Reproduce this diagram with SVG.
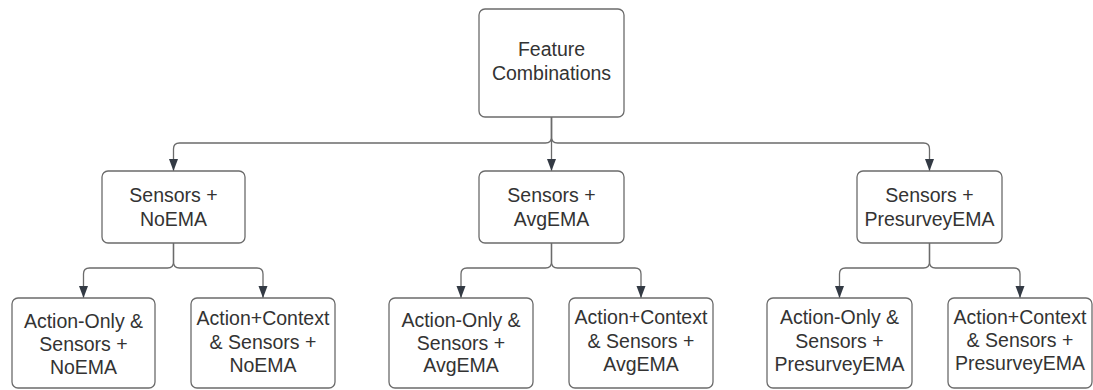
<svg xmlns="http://www.w3.org/2000/svg" width="1093" height="390" viewBox="0 0 1093 390">
<style>
.box{fill:#fff;stroke:#6b6b6b;stroke-width:1.3}
.t{font-family:"Liberation Sans",Arial,sans-serif;font-size:19.5px;fill:#333;text-anchor:middle}
.c{fill:none;stroke:#6b6b6b;stroke-width:1.3}
</style>
<defs>
<marker id="ah" markerUnits="userSpaceOnUse" markerWidth="12" markerHeight="10" refX="12" refY="5" orient="auto">
<path d="M0,0.5 L12,5 L0,9.5 z" fill="#333a44"/>
</marker>
</defs>
<rect width="1093" height="390" fill="#fff"/>
<g id="connectors">
<path class="c" marker-end="url(#ah)" d="M551.5,117 V137 Q551.5,143 545.5,143 H179.5 Q173.5,143 173.5,149 V171"/>
<path class="c" marker-end="url(#ah)" d="M551.5,117 V171"/>
<path class="c" marker-end="url(#ah)" d="M551.5,117 V137 Q551.5,143 557.5,143 H923.5 Q929.5,143 929.5,149 V171"/>
<path class="c" marker-end="url(#ah)" d="M173.5,243 V262 Q173.5,268 167.5,268 H89.5 Q83.5,268 83.5,274 V298"/>
<path class="c" marker-end="url(#ah)" d="M173.5,243 V262 Q173.5,268 179.5,268 H257 Q263,268 263,274 V298"/>
<path class="c" marker-end="url(#ah)" d="M551.5,243 V262 Q551.5,268 545.5,268 H467 Q461,268 461,274 V298"/>
<path class="c" marker-end="url(#ah)" d="M551.5,243 V262 Q551.5,268 557.5,268 H635 Q641,268 641,274 V298"/>
<path class="c" marker-end="url(#ah)" d="M929.5,243 V262 Q929.5,268 923.5,268 H845.5 Q839.5,268 839.5,274 V298"/>
<path class="c" marker-end="url(#ah)" d="M929.5,243 V262 Q929.5,268 935.5,268 H1014 Q1020,268 1020,274 V298"/>
</g>
<g id="root">
<rect class="box" x="479" y="9" width="145" height="108" rx="6"/>
<text class="t" x="551.5" y="56">Feature</text>
<text class="t" x="551.5" y="79.5">Combinations</text>
</g>
<g id="s-noema">
<rect class="box" x="102" y="171" width="143" height="72" rx="6"/>
<text class="t" x="173.5" y="201.5">Sensors +</text>
<text class="t" x="173.5" y="226">NoEMA</text>
</g>
<g id="s-avgema">
<rect class="box" x="479" y="171" width="145" height="72" rx="6"/>
<text class="t" x="551.5" y="201.5">Sensors +</text>
<text class="t" x="551.5" y="226">AvgEMA</text>
</g>
<g id="s-presurvey">
<rect class="box" x="857" y="171" width="145" height="72" rx="6"/>
<text class="t" x="929.5" y="201.5">Sensors +</text>
<text class="t" x="929.5" y="226">PresurveyEMA</text>
</g>
<g id="ao-noema">
<rect class="box" x="12" y="298" width="143" height="90" rx="6"/>
<text class="t" x="83.5" y="327.5">Action-Only &amp;</text>
<text class="t" x="83.5" y="351">Sensors +</text>
<text class="t" x="83.5" y="374">NoEMA</text>
</g>
<g id="ac-noema">
<rect class="box" x="191" y="298" width="144" height="90" rx="6"/>
<text class="t" x="263" y="325">Action+Context</text>
<text class="t" x="263" y="348.5">&amp; Sensors +</text>
<text class="t" x="263" y="371.5">NoEMA</text>
</g>
<g id="ao-avgema">
<rect class="box" x="389" y="298" width="144" height="90" rx="6"/>
<text class="t" x="461" y="326.5">Action-Only &amp;</text>
<text class="t" x="461" y="350">Sensors +</text>
<text class="t" x="461" y="372">AvgEMA</text>
</g>
<g id="ac-avgema">
<rect class="box" x="569" y="298" width="144" height="90" rx="6"/>
<text class="t" x="641" y="324">Action+Context</text>
<text class="t" x="641" y="347.5">&amp; Sensors +</text>
<text class="t" x="641" y="371">AvgEMA</text>
</g>
<g id="ao-presurvey">
<rect class="box" x="767" y="298" width="145" height="90" rx="6"/>
<text class="t" x="839.5" y="324">Action-Only &amp;</text>
<text class="t" x="839.5" y="347.5">Sensors +</text>
<text class="t" x="839.5" y="370.5">PresurveyEMA</text>
</g>
<g id="ac-presurvey">
<rect class="box" x="948" y="298" width="144" height="90" rx="6"/>
<text class="t" x="1020" y="323.5">Action+Context</text>
<text class="t" x="1020" y="346.5">&amp; Sensors +</text>
<text class="t" x="1020" y="370">PresurveyEMA</text>
</g>
</svg>
